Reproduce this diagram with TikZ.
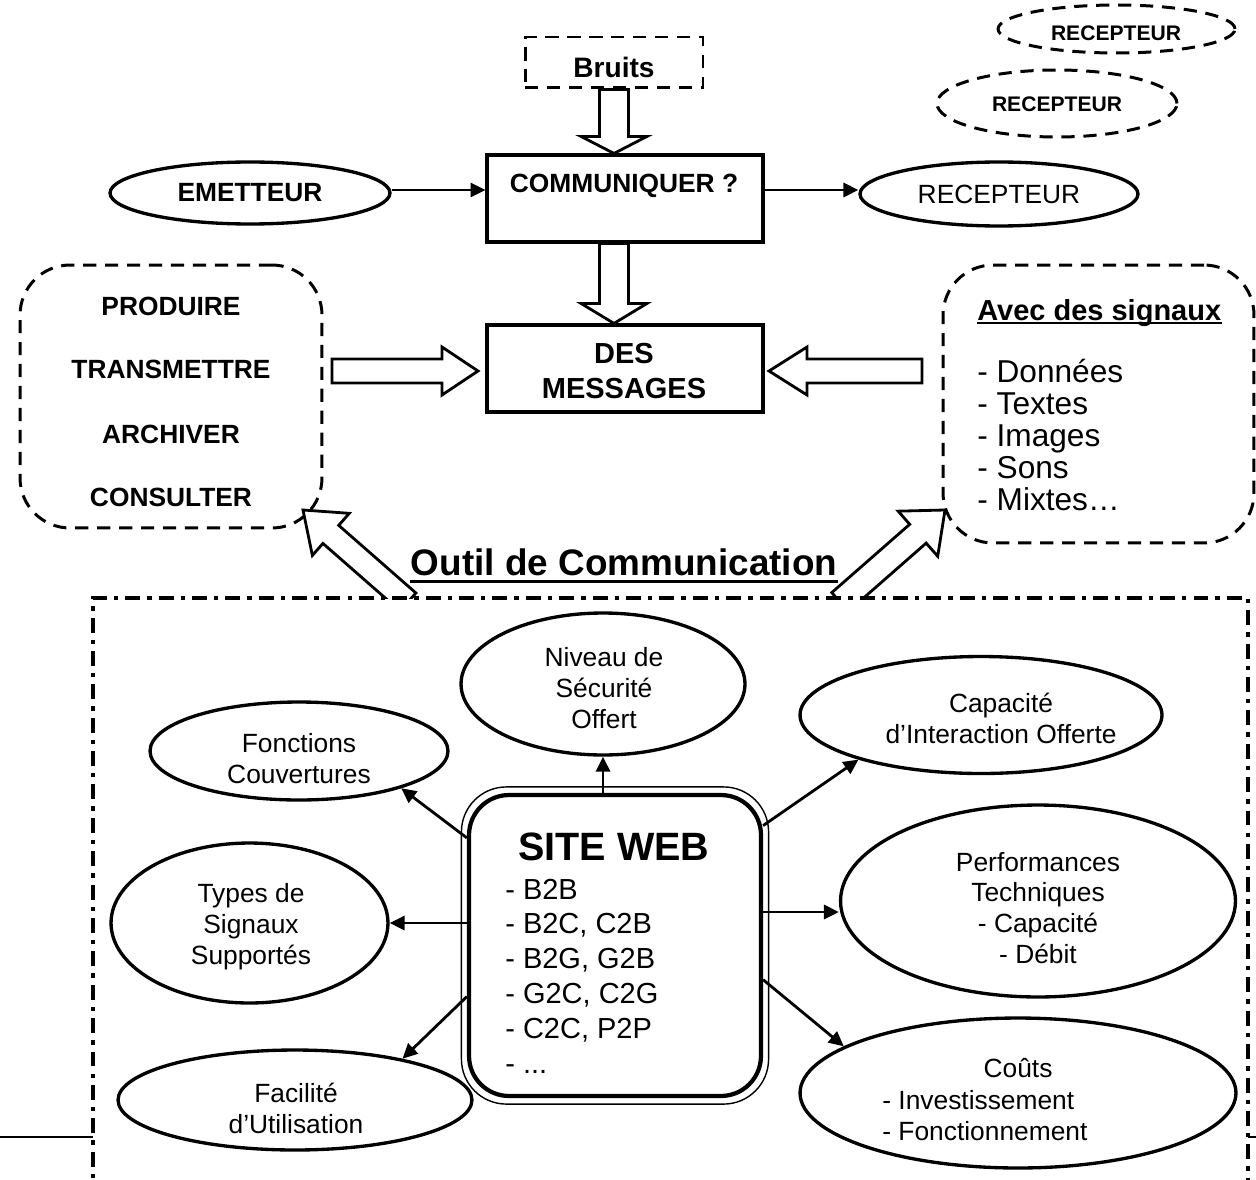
\documentclass[tikz,border=0pt]{standalone}
\usepackage{fontspec}
\setmainfont{Liberation Sans}
\usetikzlibrary{shapes.geometric,arrows.meta,calc}
\newcommand\blockarrow[5]{%
  \coordinate (bahead) at ($(#2)!#5!(#1)$);
  \draw[blockarr] ($(#1)!#3!90:(#2)$) -- ($(bahead)!#3!90:(#2)$) -- ($(bahead)!#4!90:(#2)$) -- (#2)
     -- ($(bahead)!#4!-90:(#2)$) -- ($(bahead)!#3!-90:(#2)$) -- ($(#1)!#3!-90:(#2)$) -- cycle;}
\tikzset{
  box/.style={draw, line width=1.8pt, rectangle, inner sep=0pt},
  ell/.style={draw, ellipse, line width=1.9pt, inner sep=0pt},
  dell/.style={draw, ellipse, line width=1.7pt, inner sep=0pt, dash pattern=on 7.5pt off 5pt},
  dashbox/.style={draw, rectangle, line width=1.7pt, inner sep=0pt, dash pattern=on 7.5pt off 5pt},
  blockarr/.style={draw, fill=white, line width=1.6pt, line join=miter},
  arr/.style={line width=1.6pt, -{Triangle[length=8.5pt,width=8pt]}},
  framedd/.style={line width=2.2pt, dash pattern=on 8.5pt off 4pt on 2.5pt off 4pt},
  bt/.style={font=\bfseries\fontsize{15}{18}\selectfont, inner sep=0pt},
  st/.style={font=\bfseries\fontsize{12}{14}\selectfont, inner sep=0pt},
  et/.style={font=\fontsize{15}{17.6}\selectfont, align=center, inner sep=0pt},
}
\begin{document}
\begin{tikzpicture}[x=0.02cm, y=-0.02cm]
\useasboundingbox (0,0) rectangle (1256,1179);
\clip (0,0) rectangle (1256,1179);

% top part
\node[dashbox, minimum width=3.56cm, minimum height=1.02cm] (bruits) at (614,62.5) {};
\node[font=\bfseries\fontsize{16}{19}\selectfont, inner sep=0pt] (bruitst) at (614,67) {Bruits};
\node[box, minimum width=5.52cm, minimum height=1.74cm] (comm) at (625,198.5) {};
\node[bt] (commt) at (624,186) {COMMUNIQUER ?};
\node[box, minimum width=5.52cm, minimum height=1.74cm] (des) at (625,368.5) {};
\node[font=\bfseries\fontsize{16.5}{19.8}\selectfont, align=center, inner sep=0pt] (dest) at (624,371) {DES\\MESSAGES};
\node[ell, minimum width=5.6cm, minimum height=1.24cm, font=\bfseries\fontsize{15}{18}\selectfont] (emet) at (250,193) {EMETTEUR};
\node[ell, minimum width=5.56cm, minimum height=1.28cm, font=\fontsize{15}{18}\selectfont] (rec) at (999,194) {RECEPTEUR};
\node[dell, minimum width=4.74cm, minimum height=0.96cm] (recA) at (1116.5,29) {};
\node[st] (recAt) at (1116,33) {RECEPTEUR};
\node[dell, minimum width=4.8cm, minimum height=1.34cm] (recB) at (1057,103.5) {};
\node[st] (recBt) at (1057,104.5) {RECEPTEUR};

\draw[arr] ([yshift=0.06cm]emet.east) -- ([yshift=0.06cm]emet.east -| comm.west);
\draw[arr] ([yshift=0.17cm]comm.east) -- ([yshift=0.17cm]comm.east -| rec.west);

\coordinate (ba1) at (bruits.south);
\coordinate (ba2) at (comm.north -| bruits.south);
\blockarrow{ba1}{ba2}{0.29cm}{0.66cm}{0.34cm}
\coordinate (bb1) at (comm.south -| bruits.south);
\coordinate (bb2) at (des.north -| bruits.south);
\blockarrow{bb1}{bb2}{0.29cm}{0.66cm}{0.4cm}

% left and right boxes
\node[dashbox, rounded corners=1cm, minimum width=6.04cm, minimum height=5.26cm] (lbox) at (171,396.5) {};
\node[bt] (t1) at (171,306) {PRODUIRE};
\node[bt] (t2) at (171,369) {TRANSMETTRE};
\node[bt] (t3) at (171,434) {ARCHIVER};
\node[bt] (t4) at (171,497) {CONSULTER};

\node[dashbox, rounded corners=1cm, minimum width=6.22cm, minimum height=5.56cm] (rbox) at (1098.5,404) {};
\node[anchor=base west, inner sep=0pt, font=\bfseries\fontsize{16.5}{19}\selectfont] (avec) at (977,320.5) {Avec des signaux};
\draw[line width=1.2pt] ([yshift=-0.05cm]avec.base west) -- ([yshift=-0.05cm]avec.base east);
\node[anchor=north west, align=left, inner sep=0pt, font=\fontsize{18}{18.2}\selectfont] (sigl) at (977,358.6) {- Données\\- Textes\\- Images\\- Sons\\- Mixtes…};

\coordinate (bc1) at (332,371);
\coordinate (bc2) at (478,371);
\blockarrow{bc1}{bc2}{0.24cm}{0.48cm}{0.72cm}
\coordinate (bd1) at (922,371);
\coordinate (bd2) at (769,371);
\blockarrow{bd1}{bd2}{0.24cm}{0.48cm}{0.76cm}

% diagonal block arrows
\begin{scope}
\clip (0,0) rectangle (1256,598);
\coordinate (be1) at (408,602);
\coordinate (be2) at (303,510);
\blockarrow{be1}{be2}{0.24cm}{0.56cm}{0.74cm}
\coordinate (bf1) at (840,602);
\coordinate (bf2) at (945,510);
\blockarrow{bf1}{bf2}{0.25cm}{0.6cm}{0.72cm}
\end{scope}

\node[font=\bfseries\fontsize{21}{25}\selectfont, inner sep=0pt] (outil) at (624,562.5) {Outil de Communication};
\draw[line width=1.4pt] ([yshift=-0.1cm]outil.south west) -- ([yshift=-0.1cm]outil.south east);

% frame
\draw[framedd] (93,1200) -- (93,598) -- (1248,598) -- (1248,1200);
\coordinate (fl0) at (0,1137);
\coordinate (fl1) at (93,1137);
\coordinate (fr0) at (1248,1137);
\coordinate (fr1) at (1256,1137);
\draw[line width=0.9pt] (fl0) -- (fl1);
\draw[line width=0.9pt] (fr0) -- (fr1);

% site web
\node[draw, line width=2.4pt, rounded corners=0.8cm, minimum width=5.84cm, minimum height=6.02cm, inner sep=0pt] (sw) at (615,945.5) {};
\draw[line width=0.8pt, rounded corners=0.9cm] ([shift={(-0.11cm,0.12cm)}]sw.north west) rectangle ([shift={(0.11cm,-0.12cm)}]sw.south east);
\node[font=\bfseries\fontsize{22.5}{27}\selectfont, inner sep=0pt] (swt) at (614,847) {SITE WEB};
\node[anchor=north west, align=left, inner sep=0pt, font=\fontsize{16.5}{19.8}\selectfont] (swl) at (505,878.6) {- B2B\\- B2C, C2B\\- B2G, G2B\\- G2C, C2G\\- C2C, P2P\\- ...};

% ellipses
\node[ell, minimum width=5.68cm, minimum height=2.84cm] (niv) at (603,684) {};
\node[et] (nivt) at (604,688) {Niveau de\\Sécurité\\Offert};
\node[ell, minimum width=5.96cm, minimum height=1.96cm] (fonc) at (299,751) {};
\node[et] (fonct) at (299,759) {Fonctions\\Couvertures};
\node[ell, minimum width=7.24cm, minimum height=2.34cm] (capa) at (981,715) {};
\node[et] (capat) at (1001,718) {Capacité\\d’Interaction Offerte};
\node[ell, minimum width=5.54cm, minimum height=3.2cm] (types) at (249.5,923) {};
\node[et] (typest) at (251,927) {Types de\\Signaux\\Supportés};
\node[ell, minimum width=7.9cm, minimum height=3.84cm] (perf) at (1038,901) {};
\node[et] (perft) at (1038,908) {Performances\\Techniques\\- Capacité\\- Débit};
\node[ell, minimum width=7.08cm, minimum height=2cm] (faci) at (295,1100) {};
\node[et] (facit) at (296,1108.5) {Facilité\\d’Utilisation};
\node[ell, minimum width=8.72cm, minimum height=3cm] (couts) at (1018,1093) {};
\node[et] (coutst) at (1018,1068) {Coûts};
\node[anchor=base west, inner sep=0pt, font=\fontsize{15}{17.6}\selectfont] (cinv) at (882,1109.5) {- Investissement};
\node[anchor=base west, inner sep=0pt, font=\fontsize{15}{17.6}\selectfont] (cfon) at (882,1140.5) {- Fonctionnement};

\draw[arr] (sw.north -| niv.south) -- (niv.south);
\draw[arr] (sw.144.9) -- (fonc.-20);
\draw[arr] (sw.39.1) -- (capa.200);
\draw[arr] (sw.west |- types.east) -- (types.east);
\draw[arr] ([yshift=-0.22cm]sw.east |- perf.west) -- ([yshift=-0.22cm]perf.west);
\draw[arr] (sw.199.4) -- (faci.21.8);
\draw[arr] (sw.-13.3) -- (couts.165.7);
\end{tikzpicture}
\end{document}
